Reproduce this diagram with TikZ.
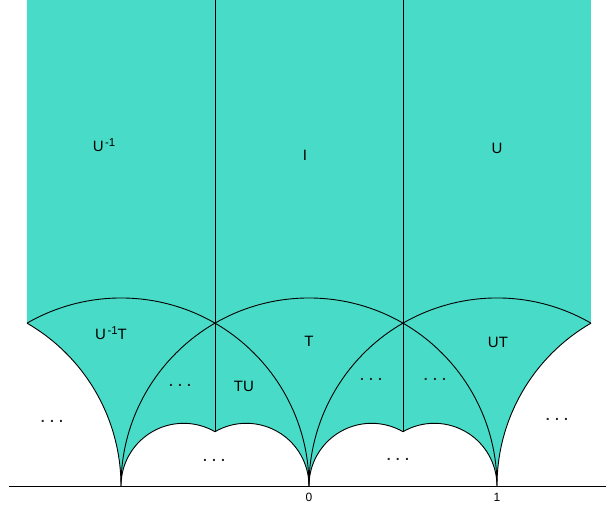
\documentclass[tikz,border=0pt]{standalone}
\usepackage{fontspec}
\setmainfont{Liberation Sans}
\definecolor{tile}{RGB}{72,220,200}
\newcommand{\inv}{\hspace{1.5pt}\raisebox{5.5pt}{\fontsize{11.5}{12}\selectfont -1}}
\begin{document}
\begin{tikzpicture}[x=188pt,y=188pt,line width=0.9pt,
    lbl/.style={font=\fontsize{15}{17}\selectfont},
    more/.style={font=\fontsize{14}{16}\selectfont\bfseries,text=black!85},
    tick/.style={font=\fontsize{12}{13}\selectfont}]
    \useasboundingbox (-1.6436,-0.1117) rectangle (1.5798,2.585);
    % corners and cusps
    \coordinate (A) at (-1.5,{sqrt(3)/2});
    \coordinate (B) at (1.5,{sqrt(3)/2});
    \coordinate (L) at (-0.5,{sqrt(3)/2});
    \coordinate (R) at (0.5,{sqrt(3)/2});
    \coordinate (Ld) at (-0.5,{sqrt(3)/6});
    \coordinate (Rd) at (0.5,{sqrt(3)/6});
    \coordinate (Lt) at (-0.5,2.585);
    \coordinate (Rt) at (0.5,2.585);
    \coordinate (m) at (-1,0);
    \coordinate (o) at (0,0);
    \coordinate (p) at (1,0);
    \coordinate (xl) at (-1.596,0);
    \coordinate (xr) at (1.58,0);
    % region
    \fill[tile] (-1.5,2.585) -- (A) arc[start angle=60,end angle=0,radius=1]
        arc[start angle=180,end angle=60,radius=1/3]
        arc[start angle=120,end angle=0,radius=1/3]
        arc[start angle=180,end angle=60,radius=1/3]
        arc[start angle=120,end angle=0,radius=1/3]
        arc[start angle=180,end angle=120,radius=1] -- (1.5,2.585) -- cycle;
    \draw (A) arc[start angle=60,end angle=0,radius=1]
        arc[start angle=180,end angle=60,radius=1/3]
        arc[start angle=120,end angle=0,radius=1/3]
        arc[start angle=180,end angle=60,radius=1/3]
        arc[start angle=120,end angle=0,radius=1/3]
        arc[start angle=180,end angle=120,radius=1];
    % edges
    \draw (Lt) -- (Ld);
    \draw (Rt) -- (Rd);
    \draw (p) arc[start angle=0,end angle=180,radius=1];
    \draw (o) arc[start angle=0,end angle=120,radius=1];
    \draw (B) arc[start angle=60,end angle=180,radius=1];
    \draw (xl) -- (xr);
    % labels
    \node[lbl] (Ui) at (-1.09,1.814) {U\inv};
    \node[lbl] (I) at (-0.021,1.761) {I};
    \node[lbl] (U) at (1.0,1.798) {U};
    \node[lbl] (UiT) at (-1.053,0.814) {U\inv T};
    \node[lbl] (T) at (0,0.771) {T};
    \node[lbl] (UT) at (1.005,0.761) {UT};
    \node[lbl] (TU) at (-0.346,0.527) {TU};
    \node[more] (d1) at (-0.686,0.535) {. . .};
    \node[more] (d2) at (0.330,0.567) {. . .};
    \node[more] (d3) at (0.670,0.567) {. . .};
    \node[more] (d4) at (-1.367,0.343) {. . .};
    \node[more] (d5) at (1.319,0.354) {. . .};
    \node[more] (d6) at (-0.505,0.136) {. . .};
    \node[more] (d7) at (0.473,0.141) {. . .};
    \node[tick] (n0) at (0,-0.062) {0};
    \node[tick] (n1) at (1,-0.062) {1};
\end{tikzpicture}
\end{document}
